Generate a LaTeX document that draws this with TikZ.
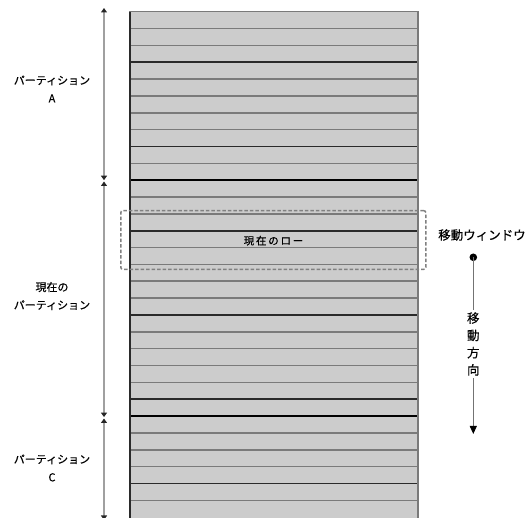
\documentclass[tikz,border=0pt]{standalone}
\usepackage{fontspec}
\setmainfont{Noto Sans CJK JP}[FakeBold=0.5]
\usetikzlibrary{arrows.meta}
\definecolor{rowfill}{HTML}{CCCCCC}
\definecolor{rowline}{HTML}{7A7A7A}
\definecolor{rowdark}{HTML}{2A2A2A}
\definecolor{dimline}{HTML}{A0A0A0}
\tikzset{
  lbl/.style={font=\fontsize{11}{18}\selectfont, align=center, inner sep=1pt},
  dimarrow/.style={draw=dimline, line width=2pt, {Triangle[width=6pt,length=4.5pt,color=black!85]}-{Triangle[width=6pt,length=4.5pt,color=black!85]}},
  winbox/.style={draw=black!50, dashed, dash pattern=on 3.5pt off 2pt, line width=1.5pt, rounded corners=2pt},
}
\begin{document}
\begin{tikzpicture}[x=1pt,y=-1pt]
\useasboundingbox (0,0) rectangle (528,518);
% table
\def\ytop{11.7}
\def\rowh{16.85}
\fill[rowfill] (129,\ytop) rectangle (418,518);
\foreach \n in {1,...,29}{
  \pgfmathsetmacro\yy{\ytop+\rowh*\n}
  \draw[rowline, line width=1.6pt] (129,\yy) -- (418,\yy);
}
\foreach \n in {3,8,13,18,23,28}{
  \pgfmathsetmacro\yy{\ytop+\rowh*\n}
  \draw[rowdark, line width=1.6pt] (129,\yy) -- (418,\yy);
}
\foreach \n in {10,24}{
  \pgfmathsetmacro\yy{\ytop+\rowh*\n}
  \draw[black, line width=2.6pt] (129,\yy) -- (418,\yy);
}
\draw[rowline, line width=1.6pt] (129,\ytop) -- (418,\ytop) -- (418,518);
\draw[rowdark, line width=2pt] (129.5,\ytop) -- (129.5,518);
% dimension arrows
\coordinate (dA1) at (104,8);
\coordinate (dA2) at (104,180.2);
\coordinate (dB1) at (104,181.5);
\coordinate (dB2) at (104,417.1);
\coordinate (dC1) at (104,418.5);
\coordinate (dC2) at (104,520);
\draw[dimarrow] (dA1) -- (dA2);
\draw[dimarrow] (dB1) -- (dB2);
\draw[dimarrow] (dC1) -- (dC2);
% labels
\node[lbl] (pa) at (52,89) {パーティション\\A};
\node[lbl] (pb) at (52,296) {現在の\\パーティション};
\node[lbl] (pc) at (52,468) {パーティション\\C};
% moving window
\node[winbox, minimum width=305pt, minimum height=58.6pt] (win) at (273.3,240) {};
\node[font=\fontsize{10.5}{12}\selectfont] (cur) at (273.5,240.7) {現\,在\,の\,ロ\,ー};
\node[font=\fontsize{12.5}{14}\selectfont, inner sep=1pt] (wl) at (482,235) {移動ウィンドウ};
\fill[black] (473.3,257.3) circle (3.8pt) coordinate (dot);
\coordinate (tip) at (473.3,434);
\node[font=\fontsize{12.5}{17.3}\selectfont, align=center, fill=white, inner sep=2pt] (dir) at (473.3,344) {移\\動\\方\\向};
\draw[black!55, line width=1pt] (dot) -- (dir.north);
\draw[black!55, line width=1pt, -{Triangle[width=7pt,length=8pt,color=black]}] (dir.south) -- (tip);
\end{tikzpicture}
\end{document}
